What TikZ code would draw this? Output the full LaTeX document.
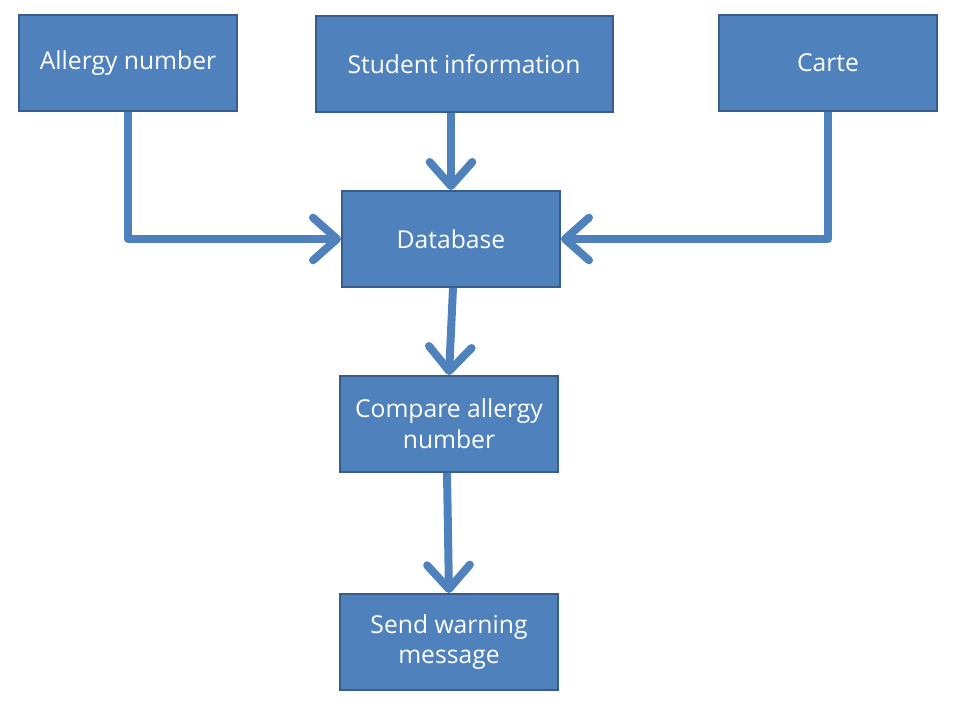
\documentclass[tikz,border=0pt]{standalone}
\usepackage{fontspec}
\setmainfont{Open Sans}
\usepackage{xcolor}
\usetikzlibrary{arrows.meta, positioning}

\definecolor{boxblue}{HTML}{4F81BD}
\definecolor{boxedge}{HTML}{385D8A}

\begin{document}
\begin{tikzpicture}[
    x=0.75pt, y=-0.75pt,
    font=\fontsize{18.5}{23}\selectfont,
    box/.style  ={draw=boxedge, line width=1.5pt, fill=boxblue, text=white,
                  align=center, minimum height=72pt, minimum width=163.5pt,
                  inner sep=2pt},
    widebox/.style={box, minimum width=222.75pt},
    flow/.style ={line width=6pt, draw=boxblue, line join=round,
                  -{Straight Barb[length=18pt, width=32pt, line cap=round, line join=round]}}
]
\useasboundingbox (0,0) rectangle (961,707);

% Top row: the three sources
\node[box]     (allergy) at (128,63) {Allergy number};
\node[widebox] (student) at (464,64) {Student information};
\node[box]     (carte)   at (828,63) {Carte};

% Middle column
\node[box] (db)      at (451,239) {Database};
\node[box] (compare) at (449,424) {Compare allergy\\number};
\node[box] (warn)    at (449,642) {Send warning\\message};

% --- Arrows ---
\draw[flow] (allergy.south) |- (db.west);
\draw[flow] (carte.south) |- (db.east);
\draw[flow] (db.north |- student.south) -- (db.north);
\draw[flow] ([xshift=1.5pt]db.south) -- (compare.north);
\draw[flow] ([xshift=-1.5pt]compare.south) -- (warn.north);

\end{tikzpicture}
\end{document}
